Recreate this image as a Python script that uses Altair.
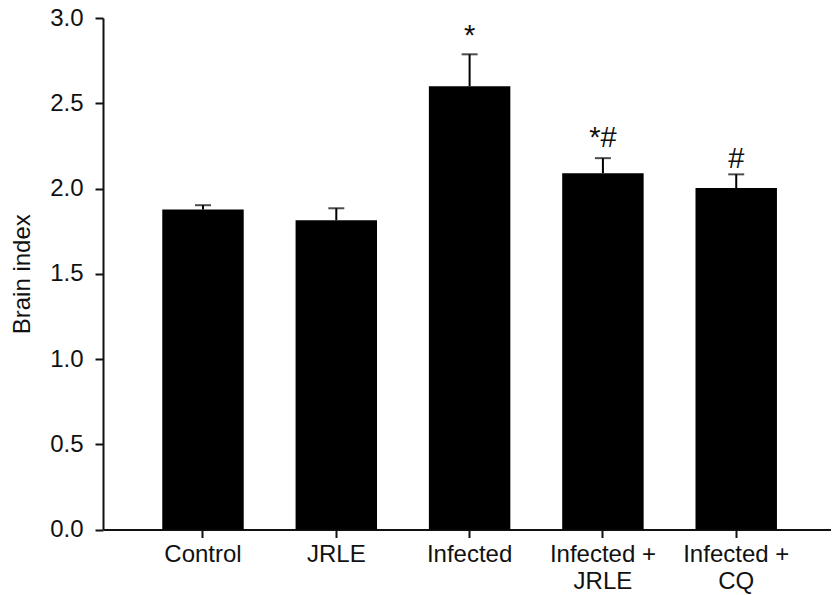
import altair as alt
import pandas as pd

groups = ["Control", "JRLE", "Infected", "Infected + JRLE", "Infected + CQ"]
means = [1.877, 1.814, 2.60, 2.09, 2.003]
upper = [1.902, 1.884, 2.787, 2.178, 2.083]
marks = ["", "", "*", "*#", "#"]
mark_y = [None, None, 2.84, 2.243, 2.12]

df = pd.DataFrame({"group": groups, "mean": means, "upper": upper, "mark": marks, "mark_y": mark_y})

FONT = "Liberation Sans"
W = 728
H = 511.5

x_scale = alt.Scale(domain=groups, paddingInner=0.389, paddingOuter=0.425, align=0.523)
x = alt.X("group:N", sort=groups, title=None, scale=x_scale,
          axis=alt.Axis(labelExpr="datum.label == 'Infected + JRLE' ? ['Infected +', 'JRLE'] : datum.label == 'Infected + CQ' ? ['Infected +', 'CQ'] : datum.label",
                        labelAngle=0, labelFontSize=24, labelFont=FONT, labelColor="#111111",
                        tickSize=8, tickWidth=2, tickColor="#111111",
                        domainWidth=2, domainColor="#111111", labelPadding=5,
                        labelLineHeight=27, labelLimit=200))
y = alt.Y("mean:Q", title="Brain index", scale=alt.Scale(domain=[0, 3]),
          axis=alt.Axis(values=[0, 0.5, 1, 1.5, 2, 2.5, 3], format=".1f", labelFontSize=24,
                        labelFont=FONT, labelColor="#111111", labelPadding=12,
                        titleFont=FONT, titleFontSize=24, titleFontWeight="normal",
                        titleColor="#111111", titlePadding=15,
                        tickSize=8, tickWidth=2, tickColor="#111111",
                        domainWidth=2, domainColor="#111111", grid=False))

base = alt.Chart(df)

bars = base.mark_bar(color="black").encode(x=x, y=y)

# error bars only go up
err = base.mark_rule(color="black", strokeWidth=2).encode(
    x=alt.X("group:N", sort=groups), y="mean:Q", y2="upper:Q")

caps = base.mark_tick(color="black", thickness=2, size=16).encode(
    x=alt.X("group:N", sort=groups), y="upper:Q")

stars = base.mark_text(fontSize=29, font=FONT, color="#111111", baseline="alphabetic").encode(
    x=alt.X("group:N", sort=groups), y="mark_y:Q", text="mark:N")

chart = (bars + err + caps + stars).properties(
    width=W, height=H,
    autosize=alt.AutoSizeParams(type="none"),
    padding={"left": 95, "top": 10, "right": 0, "bottom": 66},
).configure_view(stroke=None)

chart.save("out.html", embed_options={"renderer": "svg", "actions": False})
